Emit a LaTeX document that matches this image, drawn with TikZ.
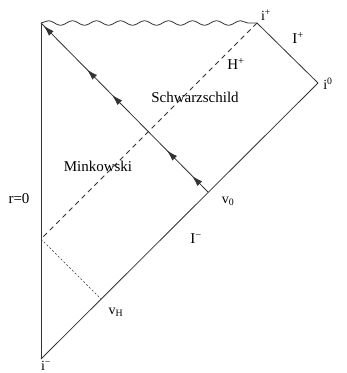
\documentclass[tikz,border=0pt]{standalone}
\usepackage{fontspec}
\setmainfont{Liberation Serif}
\usetikzlibrary{decorations.pathmorphing,decorations.markings,arrows.meta}
\begin{document}
\begin{tikzpicture}[x=1pt,y=-1pt,
  edge/.style={draw=black!80,line width=0.8pt},
  lbl/.style={inner sep=0pt,font=\fontsize{15}{15}\selectfont},
  slbl/.style={inner sep=0pt,font=\fontsize{14}{14}\selectfont}]
\useasboundingbox (0,0) rectangle (347,373);
% key points
\coordinate (top) at (41,23);
\coordinate (ip) at (257,23);
\coordinate (iz) at (318,83);
\coordinate (im) at (41,359);
\coordinate (v0) at (208,192);
\coordinate (hz) at (41,239);
\coordinate (vh) at (101,299);
% boundary
\draw[edge] (top) -- (im);
\draw[edge] (im) -- (iz);
\draw[edge] (iz) -- (ip);
\draw[edge,decorate,decoration={snake,segment length=24pt,amplitude=2.3pt}] (top) -- (ip);
% horizon and shell
\draw[edge,dash pattern=on 5pt off 4pt] (ip) -- (hz);
\draw[black!80,line width=0.6pt,dash pattern=on 2pt off 2pt] (hz) -- (vh);
% infalling null ray with arrows
\draw[edge,postaction={decorate},decoration={markings,
  mark=at position 0.096 with {\arrow{Latex[length=11pt,width=6.5pt]}},
  mark=at position 0.246 with {\arrow{Latex[length=11pt,width=6.5pt]}},
  mark=at position 0.575 with {\arrow{Latex[length=11pt,width=6.5pt]}},
  mark=at position 0.725 with {\arrow{Latex[length=11pt,width=6.5pt]}},
  mark=at position 0.985 with {\arrow{Latex[length=11pt,width=6.5pt]}}}]
  (v0) -- (top);
% labels
\node[slbl] (lip) at (266,15) {i\textsuperscript{+}};
\node[lbl] (lIp) at (298,38) {I\textsuperscript{+}};
\node[lbl] (lH) at (236,64) {H\textsuperscript{+}};
\node[slbl] (liz) at (328,84) {i\textsuperscript{0}};
\node[lbl] (ls) at (195,97) {Schwarzschild};
\node[lbl] (lm) at (98,166) {Minkowski};
\node[lbl] (lr) at (19,199) {r=0};
\node[slbl] (lv0) at (228,201) {v\textsubscript{0}};
\node[lbl] (lIm) at (196,239) {I\textsuperscript{−}};
\node[slbl] (lvh) at (116,312) {v\textsubscript{H}};
\node[slbl] (lim) at (46,366) {i\textsuperscript{−}};
\end{tikzpicture}
\end{document}
